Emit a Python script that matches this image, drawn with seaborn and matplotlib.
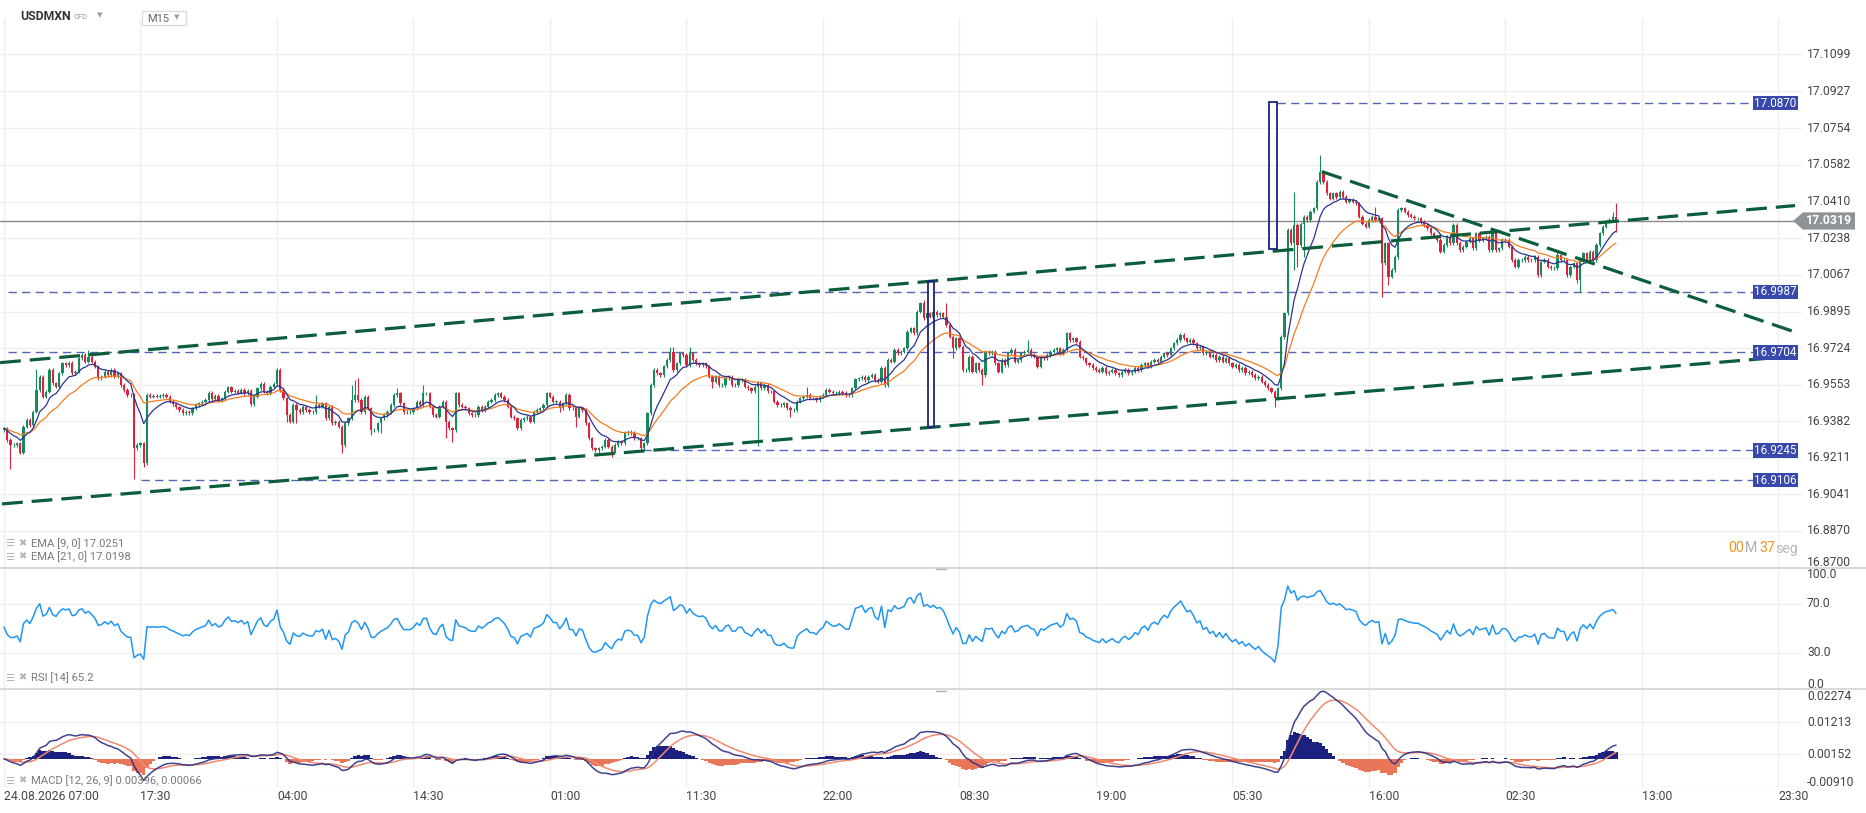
import numpy as np
import pandas as pd
import matplotlib
matplotlib.use("Agg")
import matplotlib.pyplot as plt
import seaborn as sns
from matplotlib import transforms
from matplotlib.patches import Rectangle, Polygon
from matplotlib.lines import Line2D

# ---------------- data ----------------
symbol = "USDMXN"
instrument_type = "CFD"
timeframe = "M15"
first_open = 16.9341

closes = [
    16.9349, 16.9294, 16.9271, 16.9271, 16.9279, 16.9235, 16.9357, 16.9388, 16.9364, 16.9427,
    16.9528, 16.9591, 16.9497, 16.9520, 16.9622, 16.9559, 16.9544, 16.9606, 16.9653, 16.9645,
    16.9656, 16.9606, 16.9614, 16.9676, 16.9692, 16.9661, 16.9684, 16.9661, 16.9637, 16.9583,
    16.9591, 16.9614, 16.9598, 16.9622, 16.9591, 16.9606, 16.9552, 16.9528, 16.9505, 16.9505,
    16.9255, 16.9271, 16.9279, 16.9185, 16.9505, 16.9497, 16.9502, 16.9497, 16.9500, 16.9505,
    16.9497, 16.9474, 16.9463, 16.9447, 16.9435, 16.9419, 16.9427, 16.9419, 16.9442, 16.9458,
    16.9466, 16.9474, 16.9481, 16.9516, 16.9485, 16.9500, 16.9481, 16.9489, 16.9520, 16.9541,
    16.9520, 16.9525, 16.9516, 16.9528, 16.9513, 16.9525, 16.9463, 16.9497, 16.9536, 16.9556,
    16.9520, 16.9513, 16.9544, 16.9556, 16.9622,
    16.9528, 16.9489, 16.9411, 16.9380, 16.9458, 16.9434, 16.9426, 16.9450, 16.9434, 16.9426,
    16.9426, 16.9458, 16.9450, 16.9465, 16.9395, 16.9450, 16.9372, 16.9380, 16.9356, 16.9270,
    16.9372, 16.9395, 16.9481, 16.9504, 16.9481, 16.9426, 16.9497, 16.9442, 16.9341, 16.9341,
    16.9372, 16.9395, 16.9411, 16.9426, 16.9458, 16.9504, 16.9512, 16.9465, 16.9426, 16.9426,
    16.9426, 16.9442, 16.9473, 16.9458, 16.9512, 16.9512, 16.9450, 16.9411, 16.9403, 16.9450,
    16.9473, 16.9380, 16.9348, 16.9341, 16.9512, 16.9458, 16.9450, 16.9442, 16.9419, 16.9411,
    16.9411, 16.9450, 16.9434, 16.9450, 16.9473, 16.9481, 16.9504, 16.9512, 16.9497, 16.9481,
    16.9450, 16.9403, 16.9395, 16.9348, 16.9387, 16.9395, 16.9403, 16.9380, 16.9426, 16.9434,
    16.9442, 16.9458, 16.9512,
    16.9497, 16.9474, 16.9474, 16.9443, 16.9466, 16.9505, 16.9443, 16.9443, 16.9404, 16.9443,
    16.9435, 16.9372, 16.9302, 16.9255, 16.9248, 16.9255, 16.9263, 16.9294, 16.9263, 16.9240,
    16.9271, 16.9287, 16.9279, 16.9326, 16.9333, 16.9326, 16.9302, 16.9302, 16.9255, 16.9279,
    16.9419, 16.9552, 16.9622, 16.9606, 16.9599, 16.9638, 16.9669, 16.9708, 16.9622, 16.9653,
    16.9700, 16.9692, 16.9645, 16.9700, 16.9669, 16.9653, 16.9645, 16.9653, 16.9638, 16.9591,
    16.9567, 16.9591, 16.9552, 16.9552, 16.9583, 16.9591, 16.9552, 16.9552, 16.9575, 16.9575,
    16.9544, 16.9536, 16.9521, 16.9544, 16.9560, 16.9536, 16.9552, 16.9521, 16.9521, 16.9474,
    16.9458, 16.9458, 16.9466, 16.9443, 16.9435, 16.9435, 16.9474, 16.9489, 16.9497, 16.9505,
    16.9489, 16.9489, 16.9482,
    16.9497, 16.9505, 16.9528, 16.9520, 16.9513, 16.9513, 16.9520, 16.9513, 16.9505, 16.9505,
    16.9536, 16.9578, 16.9583, 16.9591, 16.9575, 16.9591, 16.9598, 16.9575, 16.9567, 16.9630,
    16.9552, 16.9669, 16.9661, 16.9715, 16.9700, 16.9708, 16.9723, 16.9801, 16.9817, 16.9793,
    16.9895, 16.9934, 16.9864, 16.9887, 16.9871, 16.9895, 16.9879, 16.9887, 16.9871, 16.9832,
    16.9778, 16.9723, 16.9770, 16.9731, 16.9622, 16.9622, 16.9684, 16.9614, 16.9653, 16.9622,
    16.9598, 16.9708, 16.9700, 16.9708, 16.9653, 16.9614, 16.9669, 16.9645, 16.9700, 16.9715,
    16.9661, 16.9669, 16.9700, 16.9708, 16.9715, 16.9692, 16.9684, 16.9637, 16.9684, 16.9676,
    16.9692, 16.9708, 16.9715, 16.9723, 16.9700, 16.9715, 16.9793, 16.9762, 16.9770, 16.9754,
    16.9684, 16.9676, 16.9653,
    16.9645, 16.9630, 16.9622, 16.9614, 16.9630, 16.9606, 16.9614, 16.9622, 16.9606, 16.9598,
    16.9614, 16.9622, 16.9606, 16.9614, 16.9630, 16.9622, 16.9645, 16.9653, 16.9637, 16.9661,
    16.9669, 16.9661, 16.9684, 16.9700, 16.9692, 16.9723, 16.9746, 16.9762, 16.9785, 16.9770,
    16.9754, 16.9762, 16.9746, 16.9723, 16.9731, 16.9700, 16.9708, 16.9684, 16.9692, 16.9669,
    16.9684, 16.9661, 16.9676, 16.9653, 16.9637, 16.9645, 16.9622, 16.9630, 16.9606, 16.9614,
    16.9598, 16.9583, 16.9591, 16.9567, 16.9552, 16.9536, 16.9520, 16.9489,
    16.9536, 16.9777, 16.9886, 17.0276, 17.0214, 17.0300, 17.0206, 17.0307, 17.0339, 17.0323,
    17.0362, 17.0378, 17.0502, 17.0549, 17.0502, 17.0448, 17.0424, 17.0448, 17.0432, 17.0456,
    17.0432, 17.0409, 17.0417, 17.0409, 17.0401, 17.0339, 17.0307, 17.0292, 17.0323, 17.0339,
    17.0323, 17.0331, 17.0120, 17.0214, 17.0058, 17.0089, 17.0151, 17.0370, 17.0378, 17.0362,
    17.0346, 17.0339, 17.0331, 17.0331, 17.0315, 17.0300, 17.0285, 17.0261, 17.0246, 17.0230,
    17.0176, 17.0207, 17.0246, 17.0215, 17.0300, 17.0215, 17.0183, 17.0199, 17.0222, 17.0238,
    17.0191, 17.0261, 17.0230, 17.0238, 17.0246, 17.0183, 17.0269, 17.0183, 17.0191, 17.0230,
    17.0230, 17.0199, 17.0137, 17.0105, 17.0137, 17.0137, 17.0152, 17.0137, 17.0137, 17.0152,
    17.0066, 17.0129, 17.0137, 17.0105, 17.0098, 17.0098, 17.0160, 17.0137, 17.0137, 17.0066,
    17.0105, 17.0121, 17.0043, 17.0137, 17.0168, 17.0137, 17.0176, 17.0137, 17.0207, 17.0261,
    17.0293, 17.0316, 17.0324, 17.0339, 17.0316,
]

# long wicks visible on the reference (bar index -> price)
spike_highs = {10: 16.9625, 26: 16.9715, 96: 16.9504, 107: 16.9551, 108: 16.9575, 109: 16.9582,
               121: 16.9536, 129: 16.9551, 205: 16.9731, 206: 16.9731, 211: 16.9731, 247: 16.9544,
               282: 16.9942, 283: 16.9949, 290: 16.9934, 315: 16.9762, 397: 17.0456, 405: 17.0627,
               422: 17.0385, 478: 17.0183, 495: 17.0363, 496: 17.0402}
spike_lows = {2: 16.9157, 40: 16.9110, 43: 16.9170, 87: 16.9380, 90: 16.9372, 104: 16.9231,
              113: 16.9317, 116: 16.9325, 136: 16.9302, 138: 16.9286, 171: 16.9427, 176: 16.9357,
              183: 16.9232, 187: 16.9216, 218: 16.9536, 232: 16.9266, 242: 16.9404, 292: 16.9676,
              301: 16.9552, 391: 16.9450, 397: 17.0089, 398: 17.0105, 400: 17.0151, 424: 16.9964,
              426: 17.0019, 484: 17.0027, 485: 16.9988, 496: 17.0269}

time_labels = ["24.08.2026 07:00", "17:30", "04:00", "14:30", "01:00", "11:30", "22:00",
               "08:30", "19:00", "05:30", "16:00", "02:30", "13:00", "23:30"]
time_label_bars = [0, 42, 84, 126, 168, 210, 252, 294, 336, 378, 420, 462, 504, 546]

price_ticks = [17.1099, 17.0927, 17.0754, 17.0582, 17.0410, 17.0238, 17.0067, 16.9895,
               16.9724, 16.9553, 16.9382, 16.9211, 16.9041, 16.8870, 16.8700]
rsi_ticks = [100.0, 70.0, 30.0, 0.0]
macd_ticks = [0.02274, 0.01213, 0.00152, -0.00910]

level_prices = [17.0870, 16.9987, 16.9704, 16.9245, 16.9106]
level_start_bars = [391.7, 1.2, 1.2, 196.5, 42.2]

channel_upper_bars = [-1.2, 551.1]
channel_upper_prices = [16.9656, 17.0391]
channel_lower_bars = [-0.6, 551.1]
channel_lower_prices = [16.8995, 16.9687]
down_line_bars = [405.5, 550.8]
down_line_prices = [17.0550, 16.9801]

box_bars = [(284.4, 286.2), (389.3, 391.6)]
box_prices = [(16.9353, 17.0036), (17.0187, 17.0877)]

last_price = 17.0319
ema_legend = ["EMA [9, 0] 17.0251", "EMA [21, 0] 17.0198"]
rsi_legend = "RSI [14] 65.2"
macd_legend = "MACD [12, 26, 9] 0.00396, 0.00066"

# ---------------- layout constants (pixels) ----------------
W, H = 1866, 813
PX0, PXB = 4.0, 3.25          # x pixel of bar 0, pixels per bar
PLOT_R = 1802.0
PRICE_ANCHOR, PX_PER_UNIT = 17.1353, 2137.0   # price at y=0 px, px per price unit
MAIN_TOP, MAIN_BOT = 18.0, 567.5
RSI_BOT = 689.0
MACD_BOT = 786.8

GREEN, RED = "#178a5b", "#d9243c"
GRID = "#efefef"
LEVEL_BLUE = "#3949ab"
TREND_GREEN = "#0b5d3b"

sns.set_theme(style="white")
plt.rcParams['font.family'] = ['Roboto', 'DejaVu Sans']

fig = plt.figure(figsize=(W / 100, H / 100), dpi=100)
fig.patch.set_facecolor("white")


def fx(px):
    return px / W


def fy(py):
    return 1 - py / H


def bar_of(px):
    return (px - PX0) / PXB


ax = fig.add_axes([0, fy(MAIN_BOT), fx(PLOT_R), (MAIN_BOT - MAIN_TOP) / H])
ax_rsi = fig.add_axes([0, fy(RSI_BOT), fx(PLOT_R), (RSI_BOT - MAIN_BOT) / H])
ax_macd = fig.add_axes([0, fy(MACD_BOT), fx(PLOT_R), (MACD_BOT - RSI_BOT) / H])

xlim = (bar_of(0), bar_of(PLOT_R))

# ---------------- indicators ----------------
c = np.array(closes)
n = len(c)
idx = np.arange(n)
o = np.r_[first_open, c[:-1]]
s = pd.Series(c)
ema9 = s.ewm(span=9, adjust=False).mean()
ema21 = s.ewm(span=21, adjust=False).mean()

# Wilder RSI(14); averages seeded with the mean absolute move (history before the window)
d = np.diff(c, prepend=first_open)
seed = np.mean(np.abs(d)) / 2
ag, al = seed, seed
rsi_vals = np.empty(n)
for k in range(n):
    ag = (ag * 13 + max(d[k], 0)) / 14
    al = (al * 13 + max(-d[k], 0)) / 14
    rsi_vals[k] = 100 - 100 / (1 + ag / al)

macd = s.ewm(span=12, adjust=False).mean() - s.ewm(span=26, adjust=False).mean()
signal = macd.ewm(span=9, adjust=False).mean()
hist = macd - signal

# ---------------- main price panel ----------------
wick_pad = 0.0008
hi = np.maximum(o, c) + wick_pad
lo = np.minimum(o, c) - wick_pad
for k, v in spike_highs.items():
    hi[k] = max(hi[k], v)
for k, v in spike_lows.items():
    lo[k] = min(lo[k], v)
cols = np.where(c >= o, GREEN, RED)
body_bot = np.minimum(o, c)
body_h = np.maximum(np.abs(c - o), 0.00012)

for t in price_ticks:
    ax.axhline(t, color=GRID, lw=1.0, zorder=0)
for b in time_label_bars:
    for a in (ax, ax_rsi, ax_macd):
        a.axvline(b, color=GRID, lw=1.0, zorder=0)

ax.vlines(idx, lo, hi, colors=cols, lw=0.8, zorder=3)
ax.bar(idx, body_h, bottom=body_bot, width=0.72, color=cols, linewidth=0, zorder=4)
sns.lineplot(x=idx, y=ema21.values, ax=ax, color="#f57c20", lw=0.9, zorder=5)
sns.lineplot(x=idx, y=ema9.values, ax=ax, color="#283593", lw=0.9, zorder=6)

# horizontal levels (blue dashed)
label_box_left = 1753.0
for lv, st in zip(level_prices, level_start_bars):
    ax.plot([st, bar_of(label_box_left)], [lv, lv], color=LEVEL_BLUE, lw=1.0,
            dashes=(6.0, 3.8), alpha=0.85, zorder=2)

# trend lines
for xs, ys in ((channel_upper_bars, channel_upper_prices),
               (channel_lower_bars, channel_lower_prices),
               (down_line_bars, down_line_prices)):
    ax.plot(xs, ys, color=TREND_GREEN, lw=2.3, dashes=(6.5, 2.8), zorder=7,
            solid_capstyle='butt', dash_capstyle='butt')

# channel-width boxes
for (b0, b1), (p0, p1) in zip(box_bars, box_prices):
    ax.add_patch(Rectangle((b0, p0), b1 - b0, p1 - p0, fill=False,
                           ec="#1a237e", lw=1.3, zorder=8))

# last price line
ax.axhline(last_price, color="#8a8a8a", lw=1.0, zorder=2)

ax.set_xlim(*xlim)
ax.set_ylim(PRICE_ANCHOR - MAIN_BOT / PX_PER_UNIT, PRICE_ANCHOR - MAIN_TOP / PX_PER_UNIT)

# ---------------- RSI panel ----------------
for t in (70, 30):
    ax_rsi.axhline(t, color=GRID, lw=1.0, zorder=0)
sns.lineplot(x=idx, y=rsi_vals, ax=ax_rsi, color="#2196f3", lw=1.1, zorder=3)
ax_rsi.set_xlim(*xlim)
ax_rsi.set_ylim(0, 100)

# ---------------- MACD panel ----------------
for t in macd_ticks:
    ax_macd.axhline(t, color=GRID, lw=1.0, zorder=0)
hcols = np.where(hist.values >= 0, "#1c2180", "#ea7659")
ax_macd.bar(idx, hist.values, width=0.95, color=hcols, linewidth=0, zorder=2)
sns.lineplot(x=idx, y=signal.values, ax=ax_macd, color="#f08a70", lw=1.1, zorder=3)
sns.lineplot(x=idx, y=macd.values, ax=ax_macd, color="#2a2f85", lw=1.1, alpha=0.9, zorder=4)
ax_macd.set_xlim(*xlim)
ax_macd.set_ylim(macd_ticks[-1], macd_ticks[0])

for a in (ax, ax_rsi, ax_macd):
    a.set_xticks([])
    a.set_yticks([])
    a.set_xlabel("")
    a.set_ylabel("")
    for sp in a.spines.values():
        sp.set_visible(False)
    a.set_facecolor("none")

# panel separators
for yy in (MAIN_BOT, RSI_BOT):
    fig.add_artist(Line2D([0, 1], [fy(yy), fy(yy)], transform=fig.transFigure,
                          color="#d4d4d4", lw=1.2))
    fig.add_artist(Line2D([fx(936), fx(946)], [fy(yy + 1.5), fy(yy + 1.5)],
                          transform=fig.transFigure, color="#b0b0b0", lw=1.0))

# ---------------- right axis labels ----------------
AX_COL = "#454545"


def right_labels(axis, values, labels, offsets):
    base = transforms.blended_transform_factory(fig.transFigure, axis.transData)
    for v, lab, off in zip(values, labels, offsets):
        tr = transforms.offset_copy(base, fig=fig, x=0, y=off, units='dots')
        fig.text(fx(1807), v, lab, transform=tr, ha='left', va='center',
                 fontsize=8.7, color=AX_COL)


right_labels(ax, price_ticks, [f"{p:.4f}" for p in price_ticks],
             [0] * (len(price_ticks) - 1) + [4.2])
right_labels(ax_rsi, rsi_ticks, [f"{r:.1f}" for r in rsi_ticks], [-7, 0, 0, 5])
right_labels(ax_macd, macd_ticks, [f"{m:.5f}" for m in macd_ticks], [-7.7, -1.3, 0, 4])

# level label boxes
tr_main = transforms.blended_transform_factory(fig.transFigure, ax.transData)
for lv in level_prices:
    fig.add_artist(Rectangle((fx(label_box_left), lv - 7.2 / PX_PER_UNIT), fx(45),
                             14.4 / PX_PER_UNIT, transform=tr_main, color="#3949ab", lw=0))
    fig.text(fx(label_box_left + 22.5), lv, f"{lv:.4f}", transform=tr_main, ha='center',
             va='center', color='white', fontsize=8.4)

# last price marker
hh = 8.6 / PX_PER_UNIT
fig.add_artist(Polygon([(fx(1793), last_price), (fx(1803), last_price + hh),
                        (fx(1855), last_price + hh), (fx(1855), last_price - hh),
                        (fx(1803), last_price - hh)], closed=True, transform=tr_main,
                       color="#8e9398", lw=0))
fig.text(fx(1829), last_price, f"{last_price:.4f}", transform=tr_main, ha='center',
         va='center', color='white', fontsize=8.8, fontweight='bold')

# countdown
for xp, txt, col in ((1728.5, "00", "#f7931e"), (1744.5, "M", "#b0b0b0"),
                     (1759.5, "37", "#f7931e"), (1775.5, "seg", "#b8b8b8")):
    fig.text(fx(xp), fy(548.5), txt, ha='left', va='center', fontsize=10.2, color=col)

# ---------------- time labels ----------------
tr_time = transforms.blended_transform_factory(ax_macd.transData, fig.transFigure)
for b, lab in zip(time_label_bars, time_labels):
    fig.text(b, fy(796), lab, transform=tr_time, ha='left', va='center',
             fontsize=8.8, color=AX_COL)

# ---------------- legends ----------------
LEG = "#7a7a7a"
ICON = "#b4b4b4"


def legend_row(ypx, text):
    fig.text(fx(5), fy(ypx), "\u2630", ha='left', va='center', fontsize=7.5, color=ICON)
    fig.text(fx(18.5), fy(ypx), "\u2716", ha='left', va='center', fontsize=7.0, color=ICON)
    fig.text(fx(31), fy(ypx), text, ha='left', va='center', fontsize=8.1, color=LEG)


legend_row(543.3, ema_legend[0])
legend_row(556.7, ema_legend[1])
legend_row(677.7, rsi_legend)
legend_row(780.5, macd_legend)

# ---------------- header ----------------
fig.text(fx(20.5), fy(16.5), symbol, ha='left', va='center', fontsize=8.8,
         fontweight='bold', color="#333333")
fig.text(fx(74), fy(17.5), instrument_type, ha='left', va='center', fontsize=5.4, color="#9a9a9a")
fig.text(fx(97), fy(15.5), "\u25BC", ha='left', va='center', fontsize=5.2, color="#a0a0a0")
fig.add_artist(Rectangle((fx(141.5), fy(25.5)), fx(44), 14.5 / H, transform=fig.transFigure,
                         facecolor='white', edgecolor='#dddddd', lw=1.0, zorder=5))
fig.text(fx(147), fy(18.5), timeframe, ha='left', va='center', fontsize=8.0,
         color="#666666", zorder=6)
fig.text(fx(173.5), fy(17.5), "\u25BC", ha='left', va='center', fontsize=5.2,
         color="#a0a0a0", zorder=6)

fig.savefig("out.png", dpi=100, facecolor="white")
